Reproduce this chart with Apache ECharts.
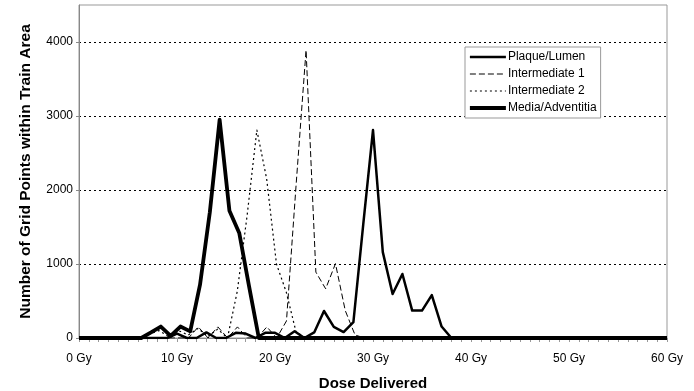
<!DOCTYPE html>
<html>
<head>
<meta charset="utf-8">
<script src="https://cdn.jsdelivr.net/npm/echarts@6/dist/echarts.min.js"></script>
<style>
  html, body { margin: 0; padding: 0; background: #fff; }
  #chartDose { width: 694px; height: 391px; }
</style>
</head>
<body>
<div id="chartDose"></div>
<script>
/* 剂量分布折线图 — 四个区域的网格点数 */

// ---- 数据 ----
var seriesNames = ["Plaque/Lumen", "Intermediate 1", "Intermediate 2", "Media/Adventitia"];

var plaqueDose  = [0, 9, 10, 11, 12, 13, 14, 15, 16, 17, 18, 19, 20, 21, 22, 23, 24, 25, 26, 27, 28, 29, 30, 31, 32, 33, 34, 35, 36, 37, 38, 60];
var plaqueCount = [0, 0, 60, 0, 0, 75, 0, 0, 70, 60, 0, 70, 70, 0, 90, 0, 75, 365, 150, 80, 215, 1530, 2810, 1160, 595, 865, 370, 370, 580, 155, 0, 0];

var inter1Dose  = [0, 11.17, 12.17, 13.17, 14.17, 15.17, 16.17, 17.17, 18.17, 19.17, 20.17, 21.17, 22.17, 23.17, 24.17, 25.17, 26.17, 27.17, 28.17, 29.17, 60];
var inter1Count = [0, 0, 150, 0, 150, 0, 150, 0, 0, 150, 0, 230, 2100, 3890, 890, 665, 1005, 370, 40, 0, 0];

var inter2Dose  = [0, 6.15, 7.15, 8.15, 9.15, 10.15, 11.15, 12.15, 13.15, 14.15, 15.15, 16.15, 17.15, 18.15, 19.15, 20.15, 21.15, 22.15, 23.15, 60];
var inter2Count = [0, 0, 50, 100, 20, 100, 40, 130, 20, 120, 0, 630, 1650, 2810, 2150, 1000, 620, 80, 0, 0];

var mediaDose   = [0, 6.35, 7.35, 8.35, 9.35, 10.35, 11.35, 12.35, 13.35, 14.35, 15.35, 16.35, 17.35, 18.35, 60];
var mediaCount  = [0, 0, 75, 155, 30, 155, 90, 720, 1700, 2950, 1720, 1420, 700, 0, 0];

var FONT = "'Liberation Sans', Arial, sans-serif";

// 线型：宽度 / 虚线样式
var _styles = [
  { width: 2.5, type: "solid" },
  { width: 1,   type: [6, 3] },
  { width: 1.2, type: [2, 3] },
  { width: 3.8, type: "solid" },
];

function _pairs(xs, ys) {
  return xs.map(function(x, i) { return [x, ys[i]]; });
}

function _lineSeries(idx, data) {
  var s = _styles[idx];
  return {
    name: seriesNames[idx],
    type: "line",
    data: data,
    symbol: "none",
    showSymbol: false,
    silent: true,
    animation: false,
    lineStyle: { color: "#000", width: s.width, type: s.type, join: "round", cap: "butt" },
    itemStyle: { color: "#000" },
  };
}

var chart = echarts.init(document.getElementById("chartDose"), null, { renderer: "canvas" });

chart.setOption({
  animation: false,
  textStyle: { fontFamily: FONT, color: "#000" },
  grid: {
    left: 79, right: 27, top: 5, bottom: 53,
    outerBoundsMode: "none",
    containLabel: false,
    show: true, borderColor: "#999", borderWidth: 1, backgroundColor: "#fff",
  },
  legend: {
    orient: "vertical",
    left: 465, top: 47,
    data: seriesNames.map(function(n, i) {
      return { name: n, lineStyle: { color: "#000", width: _styles[i].width, type: _styles[i].type } };
    }),
    itemWidth: 36, itemHeight: 12,
    itemGap: 5,
    padding: [4, 4, 4, 3],
    backgroundColor: "#fff",
    borderColor: "#999", borderWidth: 1,
    itemStyle: { opacity: 0 },
    textStyle: { fontFamily: FONT, fontSize: 12, color: "#000", padding: [0, 0, 0, -3] },
  },
  xAxis: {
    type: "value",
    min: 0, max: 60, interval: 10,
    name: "Dose Delivered",
    nameLocation: "middle",
    nameGap: 38,
    nameTextStyle: { fontFamily: FONT, fontSize: 15, fontWeight: "bold", color: "#000" },
    axisLine: { onZero: false, lineStyle: { color: "#888", width: 1 } },
    axisTick: { show: true, length: 4, lineStyle: { color: "#999" } },
    minorTick: { show: true, splitNumber: 10, length: 4, lineStyle: { color: "#999" } },
    axisLabel: { fontSize: 12, color: "#000", margin: 15, formatter: "{value} Gy" },
    splitLine: { show: false },
  },
  yAxis: {
    type: "value",
    min: 0, max: 4500, interval: 1000,
    name: "Number of Grid Points within Train Area",
    nameLocation: "middle",
    nameGap: 45,
    nameTextStyle: { fontFamily: FONT, fontSize: 15.5, fontWeight: "bold", color: "#000" },
    axisLine: { show: true, lineStyle: { color: "#888", width: 1 } },
    axisTick: { show: true, length: 3, lineStyle: { color: "#888" } },
    axisLabel: {
      fontSize: 12, color: "#000", margin: 6, showMaxLabel: false,
      formatter: function(v) { return String(v); },
    },
    splitLine: { show: true, showMinLine: false, showMaxLine: false, lineStyle: { color: "#000", width: 1, type: [2, 3] } },
  },
  series: [
    _lineSeries(0, _pairs(plaqueDose, plaqueCount)),
    _lineSeries(1, _pairs(inter1Dose, inter1Count)),
    _lineSeries(2, _pairs(inter2Dose, inter2Count)),
    _lineSeries(3, _pairs(mediaDose, mediaCount)),
  ],
});
</script>
</body>
</html>
